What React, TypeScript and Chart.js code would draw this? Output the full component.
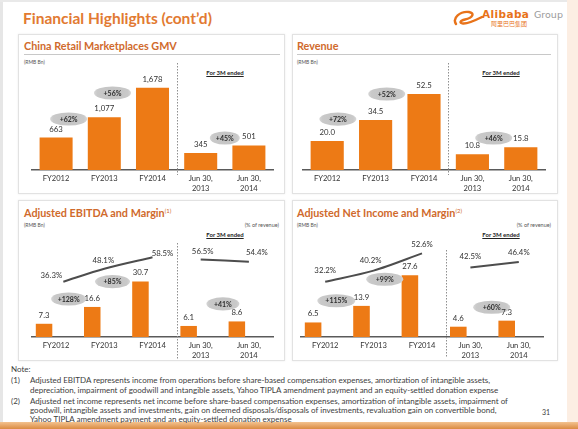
import React, { useEffect, useRef } from "react";
import { Chart, registerables } from "chart.js";

Chart.register(...registerables);

// ---------- DATA ----------
const categories = [["FY2012"], ["FY2013"], ["FY2014"], ["Jun 30,", "2013"], ["Jun 30,", "2014"]];

const gmvValues = [663, 1077, 1678, 345, 501];
const gmvGrowth = ["+62%", "+56%", "+45%"];

const revenueValues = [20.0, 34.5, 52.5, 10.8, 15.8];
const revenueGrowth = ["+72%", "+52%", "+46%"];

const ebitdaValues = [7.3, 16.6, 30.7, 6.1, 8.6];
const ebitdaMargin = [36.3, 48.1, 58.5, 56.5, 54.4];
const ebitdaGrowth = ["+128%", "+85%", "+41%"];

const netIncomeValues = [6.5, 13.9, 27.6, 4.6, 7.3];
const netIncomeMargin = [32.2, 40.2, 52.6, 42.5, 46.4];
const netIncomeGrowth = ["+115%", "+99%", "+60%"];

// ---------- STYLE ----------
const ORANGE = "#ED7A15";
const TEXT = "#333333";
const FONT = "Lato";

type Panel = {
  left: number; top: number; width: number; height: number;
  padLeft: number; padRight: number; padTop: number; axisH: number;
  values: number[];
  fmt: (v: number) => string;
  yMax: number;
  growth: string[];
  growthAt: [number, number][];
  growthRx: number[];
  margin?: number[];
  marginX?: number[];
  marginLabelOffset?: [number, number][];
  y2?: [number, number];
  dividerTop: number; dividerBottom: number;
};

const fmtThousands = (v: number) => v.toLocaleString("en-US");
const fmtOne = (v: number) => v.toFixed(1);

const panels: Panel[] = [
  {
    left: 18, top: 58, width: 267, height: 136, padLeft: 14, padRight: 12, padTop: 2, axisH: 24,
    values: gmvValues, fmt: fmtThousands, yMax: 2245,
    growth: gmvGrowth, growthAt: [[0.26, 1041], [1.17, 1571], [3.5, 653]], growthRx: [18.5, 18.5, 15],
    dividerTop: 5, dividerBottom: 117,
  },
  {
    left: 292, top: 58, width: 266, height: 136, padLeft: 11, padRight: 13, padTop: 2, axisH: 24,
    values: revenueValues, fmt: fmtOne, yMax: 76,
    growth: revenueGrowth, growthAt: [[0.22, 35.2], [1.23, 52.5], [3.44, 22.1]], growthRx: [18.5, 18.5, 18.5],
    dividerTop: 5, dividerBottom: 117,
  },
  {
    left: 18, top: 226, width: 267, height: 136, padLeft: 14, padRight: 12, padTop: 2, axisH: 25,
    values: ebitdaValues, fmt: fmtOne, yMax: 60.2,
    growth: ebitdaGrowth, growthAt: [[0.26, 21], [1.17, 30.6], [3.46, 18.3]], growthRx: [17.5, 17.5, 16.5],
    margin: ebitdaMargin, marginX: [0.15, 1, 2, 3, 4],
    marginLabelOffset: [[-12, -6], [-1, -8], [10, -4], [2, -8], [8, -9]],
    y2: [-14, 85.1],
    dividerTop: 17, dividerBottom: 134,
  },
  {
    left: 292, top: 226, width: 266, height: 136, padLeft: 9, padRight: 15, padTop: 2, axisH: 25,
    values: netIncomeValues, fmt: fmtOne, yMax: 48.7,
    growth: netIncomeGrowth, growthAt: [[0.23, 16.2], [1.23, 25.8], [3.44, 13.3]], growthRx: [19, 18.5, 18.5],
    margin: netIncomeMargin, marginX: [0, 1, 2, 3, 4],
    marginLabelOffset: [[0, -11], [-3, -10], [0, -9], [0, -11], [0, -10]],
    y2: [-7.6, 70.9],
    dividerTop: 24, dividerBottom: 132,
  },
];

function buildConfig(p: Panel): any {
  const datasets: any[] = [
    {
      type: "bar", data: p.values, backgroundColor: ORANGE, borderWidth: 0,
      barPercentage: 0.685, categoryPercentage: 1, xAxisID: "x", yAxisID: "y", order: 2,
    },
  ];
  if (p.margin && p.marginX) {
    const segs = [[0, 1, 2], [3, 4]];
    for (const seg of segs) {
      datasets.push({
        type: "line",
        data: seg.map((i) => ({ x: p.marginX![i], y: p.margin![i] })),
        xAxisID: "x2", yAxisID: "y2",
        borderColor: "#4d4d4d", borderWidth: 2, pointRadius: 0, tension: 0.3, fill: false, order: 1,
      });
    }
  }

  const marks = {
    id: "slideMarks",
    afterDatasetsDraw(chart: any) {
      const ctx = chart.ctx as CanvasRenderingContext2D;
      const sx = chart.scales.x, sx2 = chart.scales.x2, sy = chart.scales.y, sy2 = chart.scales.y2;
      ctx.save();
      // divider between fiscal years and quarters
      const dx = (sx.getPixelForValue(2) + sx.getPixelForValue(3)) / 2;
      ctx.strokeStyle = "#8f8f8f";
      ctx.lineWidth = 1;
      ctx.setLineDash([1.5, 1.5]);
      ctx.beginPath();
      ctx.moveTo(Math.round(dx) + 0.5, p.dividerTop);
      ctx.lineTo(Math.round(dx) + 0.5, p.dividerBottom);
      ctx.stroke();
      ctx.setLineDash([]);

      ctx.textAlign = "center";
      ctx.textBaseline = "middle";

      // growth bubbles
      p.growth.forEach((g, i) => {
        const [fx, fy] = p.growthAt[i];
        const cx = sx2.getPixelForValue(fx);
        const cy = sy.getPixelForValue(fy);
        const rx = p.growthRx[i];
        const grad = ctx.createRadialGradient(cx, cy, 2, cx, cy, rx);
        grad.addColorStop(0, "#C4C4C4");
        grad.addColorStop(0.8, "#C9C9C9");
        grad.addColorStop(1, "#D6D6D6");
        ctx.save();
        ctx.beginPath();
        ctx.ellipse(cx, cy, rx, 6.6, 0, 0, Math.PI * 2);
        ctx.fillStyle = grad;
        ctx.fill();
        ctx.restore();
        ctx.fillStyle = "#2e2e2e";
        ctx.font = `bold 7px ${FONT}`;
        ctx.fillText(g, cx, cy + 0.5);
      });

      // value labels
      ctx.fillStyle = TEXT;
      ctx.font = `7.8px ${FONT}`;
      const meta = chart.getDatasetMeta(0);
      meta.data.forEach((el: any, i: number) => {
        ctx.fillText(p.fmt(p.values[i]), el.x, el.y - 8.5);
      });

      // margin labels
      if (p.margin && p.marginX && p.marginLabelOffset) {
        p.margin.forEach((m, i) => {
          const [ox, oy] = p.marginLabelOffset![i];
          ctx.fillText(m.toFixed(1) + "%", sx2.getPixelForValue(p.marginX![i]) + ox, sy2.getPixelForValue(m) + oy);
        });
      }
      ctx.restore();
    },
  };

  return {
    type: "bar",
    data: { labels: categories, datasets },
    options: {
      responsive: false,
      animation: false,
      devicePixelRatio: 1,
      layout: { padding: { left: p.padLeft, right: p.padRight, top: p.padTop, bottom: 0 } },
      plugins: { legend: { display: false }, tooltip: { enabled: false } },
      scales: {
        x: {
          type: "category", offset: true,
          grid: { display: false, drawTicks: false },
          border: { display: true, color: "#5a5a5a", width: 1.5 },
          ticks: { color: TEXT, font: { family: FONT, size: 7.6, lineHeight: 1.3 }, padding: 4, maxRotation: 0, autoSkip: false },
          afterFit: (s: any) => { s.height = p.axisH; },
        },
        x2: { type: "linear", display: false, offset: false, min: -0.5, max: 4.5, grid: { offset: false } },
        y: { type: "linear", display: false, min: 0, max: p.yMax },
        y2: { type: "linear", display: false, min: p.y2 ? p.y2[0] : 0, max: p.y2 ? p.y2[1] : 100 },
      },
    },
    plugins: [marks],
  };
}

function PanelChart({ p }: { p: Panel }) {
  const ref = useRef<HTMLCanvasElement>(null);
  useEffect(() => {
    const chart = new Chart(ref.current!, buildConfig(p));
    return () => chart.destroy();
  }, []);
  return (
    <canvas
      ref={ref}
      width={p.width}
      height={p.height}
      style={{ position: "absolute", left: p.left, top: p.top, width: p.width, height: p.height }}
    />
  );
}

function T(props: { x: number; y: number; size: number; children: any; bold?: boolean; color?: string; align?: "left" | "center" | "right"; underline?: boolean; family?: string; style?: any }) {
  const { x, y, size, bold, color, align = "left", underline, family } = props;
  const base: any = {
    position: "absolute",
    top: y - size * 0.6,
    fontSize: size,
    lineHeight: `${size * 1.2}px`,
    fontWeight: bold ? 700 : 400,
    color: color || TEXT,
    whiteSpace: "nowrap",
    fontFamily: family || FONT,
    textDecoration: underline ? "underline" : "none",
    ...props.style,
  };
  if (align === "left") base.left = x;
  else if (align === "right") base.right = 578 - x;
  else { base.left = x; base.transform = "translateX(-50%)"; }
  return <div style={base}>{props.children}</div>;
}

const boxStyle = (left: number, top: number, width: number, height: number): any => ({
  position: "absolute", left, top, width, height, boxSizing: "border-box",
  border: "1px solid #e2e2e2", boxShadow: "0 0 2px rgba(0,0,0,0.08)", background: "#fff",
});

const TITLE = "#D06A2C";
const NOTE = "#404040";

export default function App() {
  return (
    <div style={{ position: "absolute", left: 0, top: 0, width: 578, height: 429, background: "#fff", overflow: "hidden", fontFamily: FONT }}>
      {/* frame */}
      <div style={{ position: "absolute", left: 0, top: 0, width: 3, height: 429, background: "#e6e6e6" }} />
      <div style={{ position: "absolute", left: 0, top: 0, width: 578, height: 2, background: "#e9e9e9" }} />
      <div style={{ position: "absolute", left: 567, top: 0, width: 11, height: 429, background: "#FCEEE3" }} />
      <div style={{ position: "absolute", left: 0, top: 422, width: 578, height: 7, background: "linear-gradient(#F3C28F, #DB8B42)" }} />

      {/* header */}
      <T x={23} y={18.5} size={15.5} bold color="#E27A32">Financial Highlights (cont’d)</T>
      <svg style={{ position: "absolute", left: 452, top: 9 }} width={32} height={20} viewBox="0 0 32 20">
        <path d="M4 15 C 0 9, 8 2, 17 3 C 23 4, 21 9, 13 10.5 C 8 11.5, 7 14, 11 14.5 C 16 15, 24 11, 30 8" stroke="#E8731A" strokeWidth={2.4} fill="none" strokeLinecap="round" />
      </svg>
      <T x={482} y={14.5} size={10.5} bold color="#E8731A" family="DejaVu Sans" style={{ letterSpacing: 0.4 }}>Alibaba</T>
      <T x={534} y={14.5} size={9.5} color="#9a9a9a" family="DejaVu Sans">Group</T>
      <T x={491} y={24} size={6} color="#E8731A" family="Noto Sans CJK SC">阿里巴巴集团</T>

      {/* panels */}
      <div style={boxStyle(18, 34, 267, 160)} />
      <div style={boxStyle(292, 34, 266, 160)} />
      <div style={boxStyle(18, 200, 267, 161)} />
      <div style={boxStyle(292, 200, 266, 161)} />

      <T x={24} y={46.5} size={10.8} bold color={TITLE}>China Retail Marketplaces GMV</T>
      <div style={{ position: "absolute", left: 24, top: 54, width: 256, height: 1, background: "#c8c8c8" }} />
      <T x={297} y={46.5} size={10.8} bold color={TITLE}>Revenue</T>
      <div style={{ position: "absolute", left: 297, top: 54, width: 254, height: 1, background: "#c8c8c8" }} />
      <T x={24} y={211.5} size={10.8} bold color={TITLE}>Adjusted EBITDA and Margin<sup style={{ fontSize: 6, verticalAlign: 4, fontWeight: 400 }}>(1)</sup></T>
      <T x={297} y={211.5} size={10.8} bold color={TITLE}>Adjusted Net Income and Margin<sup style={{ fontSize: 6, verticalAlign: 4, fontWeight: 400 }}>(2)</sup></T>

      <T x={24} y={62} size={5} color="#555">(RMB Bn)</T>
      <T x={297} y={62} size={5} color="#555">(RMB Bn)</T>
      <T x={24} y={225} size={5} color="#555">(RMB Bn)</T>
      <T x={297} y={225} size={5} color="#555">(RMB Bn)</T>
      <T x={279} y={225} size={5.5} color="#555" align="right">(% of revenue)</T>
      <T x={551} y={225} size={5.5} color="#555" align="right">(% of revenue)</T>

      <T x={225} y={72.7} size={6} bold underline align="center" color="#222">For 3M ended</T>
      <T x={501} y={72.7} size={6} bold underline align="center" color="#222">For 3M ended</T>
      <T x={225} y={234.3} size={6} bold underline align="center" color="#222">For 3M ended</T>
      <T x={501} y={235} size={6} bold underline align="center" color="#222">For 3M ended</T>

      {panels.map((p, i) => <PanelChart key={i} p={p} />)}

      {/* notes */}
      <T x={11} y={370} size={8} color={NOTE}>Note:</T>
      <T x={11} y={381} size={8} color={NOTE}>(1)</T>
      <T x={30} y={381} size={8} color={NOTE}>Adjusted EBITDA represents income from operations before share-based compensation expenses, amortization of intangible assets,</T>
      <T x={30} y={391} size={8} color={NOTE}>depreciation, impairment of goodwill and intangible assets, Yahoo TIPLA amendment payment and an equity-settled donation expense</T>
      <T x={11} y={401.5} size={8} color={NOTE}>(2)</T>
      <T x={30} y={401.5} size={8} color={NOTE}>Adjusted net income represents net income before share-based compensation expenses, amortization of intangible assets, impairment of</T>
      <T x={30} y={411} size={8} color={NOTE}>goodwill, intangible assets and investments, gain on deemed disposals/disposals of investments, revaluation gain on convertible bond,</T>
      <T x={30} y={420} size={8} color={NOTE}>Yahoo TIPLA amendment payment and an equity-settled donation expense</T>
      <T x={542} y={412} size={7} color={NOTE}>31</T>
    </div>
  );
}
